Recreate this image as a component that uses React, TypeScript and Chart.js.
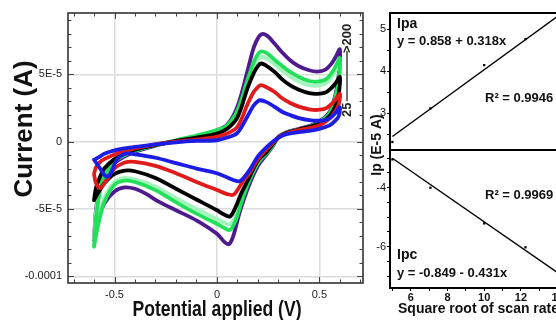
import React, { useEffect, useRef } from 'react';
import { Chart, registerables } from 'chart.js';

Chart.register(...registerables);

// ---------- Left panel: cyclic voltammograms (current in units of 1E-5 A) ----------
const potentialTicks = [-0.5, 0, 0.5];
const currentTicks = [-10, -5, 0, 5];
const currentTickLabels = ['-0.0001', '-5E-5', '0', '5E-5'];

const cvBlue25: number[][] = [
  [-0.6, -1.35], [-0.57, -1.1], [-0.55, -0.9], [-0.5, -0.65], [-0.45, -0.5], [-0.4, -0.4], [-0.3, -0.2], [-0.2, -0.05],
  [-0.1, 0.05], [0, 0.1], [0.05, 0.3], [0.1, 0.65], [0.15, 1.9], [0.18, 2.7], [0.2, 3.0], [0.21, 3.07], [0.24, 2.95],
  [0.28, 2.6], [0.32, 2.2], [0.36, 1.95], [0.4, 1.75], [0.45, 1.6], [0.49, 1.55], [0.53, 1.6], [0.56, 1.85], [0.58, 2.15],
  [0.6, 2.55], [0.595, 1.9], [0.58, 1.6], [0.55, 1.2], [0.5, 0.95], [0.45, 0.8], [0.4, 0.7], [0.34, 0.55], [0.3, 0.3],
  [0.27, -0.05], [0.24, -0.45], [0.2, -1.1], [0.16, -2.1], [0.13, -2.7], [0.11, -2.95], [0.08, -2.85], [0, -2.35],
  [-0.1, -2.0], [-0.2, -1.6], [-0.3, -1.2], [-0.4, -0.95], [-0.45, -0.9], [-0.49, -1.4], [-0.52, -2.4], [-0.54, -2.6],
  [-0.57, -2.0], [-0.6, -1.35],
];

const cvRed50: number[][] = [
  [-0.6, -2.4], [-0.59, -1.9], [-0.57, -1.5], [-0.55, -1.3], [-0.5, -0.95], [-0.45, -0.7], [-0.4, -0.5], [-0.3, -0.2],
  [-0.2, 0.0], [-0.1, 0.15], [0, 0.35], [0.05, 0.6], [0.1, 1.1], [0.15, 2.8], [0.18, 3.7], [0.2, 4.05], [0.215, 4.2],
  [0.24, 4.05], [0.28, 3.7], [0.32, 3.2], [0.36, 2.85], [0.4, 2.6], [0.45, 2.4], [0.49, 2.35], [0.53, 2.45], [0.56, 2.8],
  [0.58, 3.15], [0.6, 3.55], [0.595, 2.8], [0.58, 2.3], [0.55, 1.7], [0.5, 1.2], [0.45, 1.0], [0.4, 0.85], [0.34, 0.6],
  [0.3, 0.3], [0.27, -0.15], [0.24, -0.6], [0.2, -1.3], [0.16, -2.3], [0.13, -2.9], [0.1, -3.6], [0.08, -3.95],
  [0.05, -3.9], [0, -3.6], [-0.1, -3.0], [-0.2, -2.35], [-0.3, -1.8], [-0.4, -1.5], [-0.45, -1.55], [-0.5, -2.0],
  [-0.55, -3.1], [-0.57, -3.45], [-0.59, -3.1], [-0.6, -2.4],
];

const cvBlack100: number[][] = [
  [-0.6, -4.35], [-0.59, -3.4], [-0.57, -2.6], [-0.55, -2.0], [-0.5, -1.3], [-0.45, -0.9], [-0.4, -0.6], [-0.3, -0.25],
  [-0.2, 0.05], [-0.1, 0.3], [0, 0.6], [0.05, 0.95], [0.1, 1.8], [0.15, 4.0], [0.18, 5.1], [0.2, 5.6], [0.215, 5.8],
  [0.24, 5.65], [0.28, 5.2], [0.32, 4.6], [0.36, 4.15], [0.4, 3.85], [0.45, 3.6], [0.49, 3.55], [0.53, 3.65], [0.56, 4.0],
  [0.58, 4.35], [0.6, 4.8], [0.595, 3.6], [0.58, 2.7], [0.55, 1.9], [0.5, 1.35], [0.45, 1.1], [0.4, 0.9], [0.34, 0.65],
  [0.3, 0.3], [0.27, -0.25], [0.24, -0.8], [0.2, -1.4], [0.15, -2.9], [0.12, -3.8], [0.09, -4.9], [0.065, -5.55],
  [0.04, -5.45], [0, -5.1], [-0.1, -4.3], [-0.2, -3.5], [-0.3, -2.7], [-0.4, -2.2], [-0.45, -2.15], [-0.5, -2.4],
  [-0.55, -3.1], [-0.58, -3.8], [-0.6, -4.35],
];

const cvPaleGreen150: number[][] = [
  [-0.6, -7.2], [-0.59, -5.2], [-0.57, -3.4], [-0.55, -2.5], [-0.5, -1.45], [-0.45, -0.95], [-0.4, -0.65], [-0.3, -0.25],
  [-0.2, 0.1], [-0.1, 0.4], [0, 0.8], [0.05, 1.1], [0.1, 2.1], [0.15, 4.2], [0.18, 5.5], [0.2, 6.1], [0.22, 6.3],
  [0.25, 6.1], [0.28, 5.75], [0.32, 5.25], [0.36, 4.8], [0.4, 4.45], [0.45, 4.2], [0.49, 4.15], [0.53, 4.3], [0.56, 4.8],
  [0.58, 5.3], [0.6, 5.9], [0.595, 4.4], [0.58, 3.3], [0.55, 2.05], [0.5, 1.4], [0.45, 1.1], [0.4, 0.9], [0.34, 0.65],
  [0.3, 0.3], [0.27, -0.3], [0.24, -0.85], [0.2, -1.55], [0.15, -3.0], [0.12, -4.2], [0.09, -5.5], [0.065, -6.15],
  [0.04, -6.05], [0, -5.75], [-0.1, -5.0], [-0.2, -4.2], [-0.3, -3.35], [-0.4, -2.8], [-0.45, -2.7], [-0.5, -3.0],
  [-0.55, -4.2], [-0.58, -5.8], [-0.6, -7.2],
];

const cvGreen150: number[][] = [
  [-0.6, -7.8], [-0.59, -5.6], [-0.57, -3.6], [-0.55, -2.6], [-0.5, -1.5], [-0.45, -1.0], [-0.4, -0.7], [-0.3, -0.25],
  [-0.2, 0.1], [-0.1, 0.45], [0, 0.85], [0.05, 1.2], [0.1, 2.3], [0.15, 4.6], [0.18, 5.9], [0.2, 6.5], [0.22, 6.7],
  [0.25, 6.5], [0.28, 6.1], [0.32, 5.6], [0.36, 5.15], [0.4, 4.8], [0.45, 4.5], [0.49, 4.45], [0.53, 4.6], [0.56, 5.1],
  [0.58, 5.6], [0.6, 6.2], [0.595, 4.6], [0.58, 3.4], [0.55, 2.1], [0.5, 1.45], [0.45, 1.1], [0.4, 0.9], [0.34, 0.65],
  [0.3, 0.3], [0.27, -0.35], [0.24, -0.9], [0.2, -1.6], [0.15, -3.2], [0.12, -4.5], [0.09, -5.9], [0.065, -6.55],
  [0.04, -6.45], [0, -6.1], [-0.1, -5.35], [-0.2, -4.5], [-0.3, -3.6], [-0.4, -3.0], [-0.45, -2.9], [-0.5, -3.2],
  [-0.55, -4.5], [-0.58, -6.2], [-0.6, -7.8],
];

const cvPurple200: number[][] = [
  [-0.6, -7.3], [-0.59, -5.0], [-0.57, -3.3], [-0.55, -2.5], [-0.5, -1.6], [-0.45, -1.1], [-0.4, -0.75], [-0.3, -0.3],
  [-0.2, 0.05], [-0.1, 0.4], [0, 0.85], [0.05, 1.25], [0.1, 2.6], [0.15, 5.3], [0.18, 7.0], [0.205, 7.8], [0.225, 8.0],
  [0.25, 7.8], [0.28, 7.3], [0.32, 6.6], [0.36, 6.0], [0.4, 5.6], [0.45, 5.3], [0.49, 5.2], [0.53, 5.35], [0.56, 5.8],
  [0.58, 6.3], [0.6, 6.85], [0.595, 5.0], [0.58, 3.6], [0.55, 2.2], [0.5, 1.5], [0.45, 1.15], [0.4, 0.95], [0.34, 0.7],
  [0.3, 0.35], [0.27, -0.4], [0.24, -1.0], [0.2, -1.8], [0.15, -3.5], [0.11, -5.3], [0.08, -7.0], [0.06, -7.6],
  [0.04, -7.5], [0, -6.85], [-0.1, -5.85], [-0.2, -5.1], [-0.28, -4.5], [-0.35, -3.85], [-0.4, -3.5], [-0.45, -3.4],
  [-0.5, -3.7], [-0.55, -4.6], [-0.58, -5.8], [-0.6, -7.3],
];

// drawn first = on top
const cvSeries = [
  { name: '25', points: cvBlue25, color: '#1c1ce4' },
  { name: '50', points: cvRed50, color: '#e01b1b' },
  { name: '100', points: cvBlack100, color: '#000000' },
  { name: '150', points: cvGreen150, color: '#22e05a' },
  { name: '150b', points: cvPaleGreen150, color: '#a4f2bc' },
  { name: '200', points: cvPurple200, color: '#4f1a8e' },
];

// ---------- Right panel: peak current vs square root of scan rate ----------
const sqrtScanRate = [5, 7.07, 10, 12.25, 14.14];
const ipaValues = [2.32, 3.12, 4.15, 4.77, 5.32];
const ipcValues = [-3.04, -4.0, -5.21, -6.02, -6.95];
const fitX = [5, 15];
const ipaFitY = [2.45, 5.63];
const ipcFitY = [-3.0, -7.31];
const ipaTickLabels = [3, 4, 5];
const ipcTickLabels = [-4, -6];
const sqrtTickLabels = [6, 8, 10, 12, 14];

const SANS = "'Liberation Sans', Arial, sans-serif";

function line(ctx: CanvasRenderingContext2D, x1: number, y1: number, x2: number, y2: number) {
  ctx.beginPath();
  ctx.moveTo(x1, y1);
  ctx.lineTo(x2, y2);
  ctx.stroke();
}

const cvFramePlugin = {
  id: 'cvFrame',
  afterDatasetsDraw(chart: any) {
    const { ctx, chartArea: a, scales } = chart;
    const xs = scales.x;
    const ys = scales.y;
    ctx.save();
    ctx.strokeStyle = '#444';
    ctx.lineWidth = 1;
    for (let i = -7; i <= 7; i++) {
      const px = Math.round(xs.getPixelForValue(i / 10)) + 0.5;
      const len = i % 5 === 0 ? 6 : 3.5;
      line(ctx, px, a.bottom, px, a.bottom - len);
      line(ctx, px, a.top, px, a.top + len);
    }
    for (let i = -10; i <= 9; i++) {
      const py = Math.round(ys.getPixelForValue(i)) + 0.5;
      const len = i % 5 === 0 ? 6 : 3.5;
      line(ctx, a.left, py, a.left + len, py);
      line(ctx, a.right, py, a.right - len, py);
    }
    ctx.strokeStyle = '#333';
    ctx.lineWidth = 1.6;
    ctx.strokeRect(a.left, a.top, a.right - a.left, a.bottom - a.top);
    ctx.restore();
  },
  afterDraw(chart: any) {
    const { ctx } = chart;
    ctx.save();
    ctx.fillStyle = '#111';
    ctx.textBaseline = 'middle';
    // y title
    ctx.save();
    ctx.translate(25, 129);
    ctx.rotate(-Math.PI / 2);
    ctx.textAlign = 'center';
    ctx.font = `bold 26px ${SANS}`;
    ctx.fillText('Current (A)', 0, 0);
    ctx.restore();
    // x title (condensed)
    ctx.save();
    ctx.translate(217, 310);
    ctx.scale(0.8, 1);
    ctx.textAlign = 'center';
    ctx.font = `bold 22px ${SANS}`;
    ctx.fillText('Potential applied (V)', 0, 0);
    ctx.restore();
    // scan-rate arrow label
    ctx.save();
    ctx.translate(347, 117);
    ctx.rotate(-Math.PI / 2);
    ctx.textAlign = 'left';
    ctx.font = `bold 13px ${SANS}`;
    ctx.fillStyle = '#222';
    ctx.fillText('25', 0, 0);
    ctx.strokeStyle = '#222';
    ctx.lineWidth = 1.3;
    line(ctx, 16, 0, 66, 0);
    ctx.fillText('>200', 64, 0);
    ctx.restore();
    ctx.restore();
  },
};

function rightFrame(id: string, draw: (ctx: CanvasRenderingContext2D) => void) {
  return {
    id,
    afterDatasetsDraw(chart: any) {
      const { ctx, chartArea: a } = chart;
      ctx.save();
      ctx.strokeStyle = '#000';
      ctx.lineWidth = 2;
      ctx.strokeRect(a.left, a.top, a.right - a.left, a.bottom - a.top);
      ctx.restore();
    },
    afterDraw(chart: any) {
      const ctx = chart.ctx as CanvasRenderingContext2D;
      ctx.save();
      ctx.fillStyle = '#111';
      ctx.textBaseline = 'middle';
      ctx.textAlign = 'left';
      draw(ctx);
      ctx.restore();
    },
  };
}

const OX = 364; // left of right-panel canvases on the page

function rightY(min: number, max: number, labels: number[]) {
  return {
    type: 'linear' as const,
    min,
    max,
    afterFit: (s: any) => {
      s.width = 26;
      s.paddingTop = 0;
      s.paddingBottom = 0;
    },
    border: { display: false },
    grid: { drawOnChartArea: false, drawTicks: true, tickLength: 3, color: '#000', lineWidth: 1 },
    ticks: {
      stepSize: 0.5,
      includeBounds: false,
      maxTicksLimit: 30,
      padding: 1,
      color: '#111',
      font: { family: SANS, size: 11 },
      callback: (v: number) => (labels.includes(v) ? String(v) : ''),
    },
  };
}

function rightX(display: boolean) {
  return {
    type: 'linear' as const,
    min: 4.87,
    max: 15.0,
    display,
    afterFit: (s: any) => {
      s.height = display ? 32 : 0;
      s.paddingLeft = 0;
      s.paddingRight = 0;
    },
    border: { display: false },
    grid: { drawOnChartArea: false, drawTicks: true, tickLength: 3, color: '#000', lineWidth: 1 },
    ticks: {
      stepSize: 1,
      includeBounds: false,
      maxTicksLimit: 30,
      autoSkip: false,
      maxRotation: 0,
      padding: 0,
      color: '#111',
      font: { family: SANS, size: 11, weight: 'bold' as const },
      callback: (v: number) => (sqrtTickLabels.includes(v) ? String(v) : ''),
    },
  };
}

function fitDatasets(values: number[], fitY: number[]) {
  return [
    {
      type: 'line' as const,
      data: fitX.map((x, i) => ({ x, y: fitY[i] })),
      borderColor: '#000',
      borderWidth: 1.4,
      pointRadius: 0,
      fill: false,
    },
    {
      type: 'line' as const,
      data: sqrtScanRate.map((x, i) => ({ x, y: values[i] })),
      showLine: false,
      pointStyle: 'rect' as const,
      pointRadius: 1.6,
      pointBackgroundColor: '#000',
      pointBorderColor: '#000',
      pointBorderWidth: 0,
    },
  ];
}

export default function App() {
  const leftRef = useRef<HTMLCanvasElement>(null);
  const topRef = useRef<HTMLCanvasElement>(null);
  const botRef = useRef<HTMLCanvasElement>(null);

  useEffect(() => {
    const left = new Chart(leftRef.current as HTMLCanvasElement, {
      type: 'line',
      data: {
        datasets: cvSeries.map((s) => ({
          label: s.name,
          data: s.points.map(([x, y]) => ({ x, y })),
          borderColor: s.color,
          borderWidth: 3.8,
          pointRadius: 0,
          tension: 0.35,
          fill: false,
          borderJoinStyle: 'round' as const,
          borderCapStyle: 'round' as const,
        })),
      },
      options: {
        animation: false,
        responsive: false,
        maintainAspectRatio: false,
        layout: { padding: { left: 0, top: 13, right: 9, bottom: 0 } },
        plugins: { legend: { display: false }, tooltip: { enabled: false } },
        scales: {
          x: {
            type: 'linear',
            min: -0.727,
            max: 0.713,
            afterBuildTicks: (s: any) => { s.ticks = potentialTicks.map((v) => ({ value: v })); },
            afterFit: (s: any) => { s.height = 37; },
            border: { display: false },
            grid: { color: '#dcdcdc', lineWidth: 1.5, drawTicks: false },
            ticks: {
              padding: 5,
              maxRotation: 0,
              color: '#222',
              font: { family: SANS, size: 11 },
              callback: (v: any) => (v === 0 ? '0' : String(v)),
            },
          },
          y: {
            type: 'linear',
            min: -10.5,
            max: 9.55,
            afterBuildTicks: (s: any) => { s.ticks = currentTicks.map((v) => ({ value: v })); },
            afterFit: (s: any) => { s.width = 68; },
            border: { display: false },
            grid: { color: '#dcdcdc', lineWidth: 1.5, drawTicks: false },
            ticks: {
              padding: 6,
              color: '#222',
              font: { family: SANS, size: 11 },
              callback: (v: any) => currentTickLabels[currentTicks.indexOf(v)] ?? '',
            },
          },
        },
      },
      plugins: [cvFramePlugin],
    } as any);

    const top = new Chart(topRef.current as HTMLCanvasElement, {
      type: 'line',
      data: { datasets: fitDatasets(ipaValues, ipaFitY) },
      options: {
        animation: false,
        responsive: false,
        maintainAspectRatio: false,
        layout: { padding: { left: 0, top: 13, right: 6, bottom: 0 } },
        plugins: { legend: { display: false }, tooltip: { enabled: false } },
        scales: { x: rightX(false), y: rightY(2.13, 5.39, ipaTickLabels) },
      },
      plugins: [
        rightFrame('ipaFrame', (ctx) => {
          ctx.font = `bold 14px ${SANS}`;
          ctx.fillText('Ipa', 397 - OX, 24);
          ctx.font = `bold 13px ${SANS}`;
          ctx.fillText('y = 0.858 + 0.318x', 397 - OX, 41);
          ctx.fillText('R² = 0.9946', 485 - OX, 98);
        }),
      ],
    } as any);

    const bot = new Chart(botRef.current as HTMLCanvasElement, {
      type: 'line',
      data: { datasets: fitDatasets(ipcValues, ipcFitY) },
      options: {
        animation: false,
        responsive: false,
        maintainAspectRatio: false,
        layout: { padding: { left: 0, top: 150, right: 6, bottom: 0 } },
        plugins: { legend: { display: false }, tooltip: { enabled: false } },
        scales: { x: rightX(true), y: rightY(-7.4, -2.72, ipcTickLabels) },
      },
      plugins: [
        rightFrame('ipcFrame', (ctx) => {
          ctx.font = `bold 13px ${SANS}`;
          ctx.fillText('R² = 0.9969', 485 - OX, 195);
          ctx.font = `bold 14px ${SANS}`;
          ctx.fillText('Ipc', 397 - OX, 255);
          ctx.font = `bold 13px ${SANS}`;
          ctx.fillText('y = -0.849 - 0.431x', 397 - OX, 273);
          ctx.font = `bold 14px ${SANS}`;
          ctx.fillText('Square root of scan rate', 398 - OX, 309);
          ctx.save();
          ctx.translate(377 - OX, 145);
          ctx.rotate(-Math.PI / 2);
          ctx.textAlign = 'center';
          ctx.font = `bold 14px ${SANS}`;
          ctx.fillText('Ip (E-5 A)', 0, 0);
          ctx.restore();
        }),
      ],
    } as any);

    return () => {
      left.destroy();
      top.destroy();
      bot.destroy();
    };
  }, []);

  return (
    <div style={{ position: 'fixed', left: 0, top: 0, width: 556, height: 320, overflow: 'hidden', background: '#fff' }}>
      <canvas ref={leftRef} width={372} height={320} style={{ position: 'absolute', left: 0, top: 0, width: 372, height: 320 }} />
      <canvas ref={botRef} width={218} height={320} style={{ position: 'absolute', left: OX, top: 0, width: 218, height: 320 }} />
      <canvas ref={topRef} width={218} height={154} style={{ position: 'absolute', left: OX, top: 0, width: 218, height: 154 }} />
    </div>
  );
}
